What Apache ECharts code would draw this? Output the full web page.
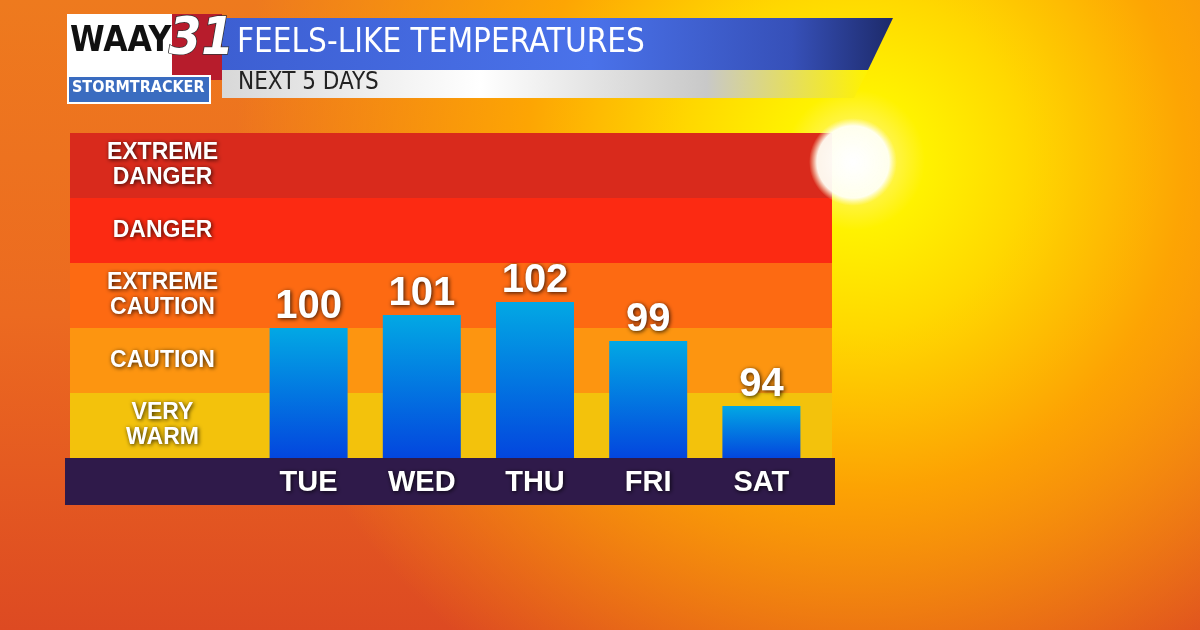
<!DOCTYPE html>
<html>
<head>
<meta charset="utf-8">
<script src="https://cdn.jsdelivr.net/npm/echarts@6/dist/echarts.min.js"></script>
<style>
html, body { margin: 0; padding: 0; }
#chart {
    width: 1200px; height: 630px;
    background:
        radial-gradient(circle at 855px 160px, #fff8a0 0, #fff200 70px, #ffd800 170px, rgba(255,170,0,0.9) 330px, rgba(245,110,20,0) 620px),
        linear-gradient(180deg, #ee7a1e 0%, #ec6a20 50%, #dd4a22 100%);
}
</style>
</head>
<body>
<div id="chart"></div>
<script>
var days = ['TUE', 'WED', 'THU', 'FRI', 'SAT'];
var feelsLike = [100, 101, 102, 99, 94];
var bandNames = ['VERY\nWARM', 'CAUTION', 'EXTREME\nCAUTION', 'DANGER', 'EXTREME\nDANGER'];
var bandFrom = [90, 95, 100, 105, 110];
var bandTo = [95, 100, 105, 110, 115];
var bandColors = ['#f3c20c', '#fd9510', '#fd6a12', '#fc2a12', '#d92a1c'];

var myChart = echarts.init(document.getElementById('chart'));

var colorAreas = [], labelAreas = [];
for (var i = 0; i < bandNames.length; i++) {
    colorAreas.push([{ yAxis: bandFrom[i], itemStyle: { color: bandColors[i] } }, { yAxis: bandTo[i] }]);
    labelAreas.push([{ yAxis: bandFrom[i], name: bandNames[i] }, { yAxis: bandTo[i] }]);
}

var textShadow = { textShadowColor: 'rgba(0,0,0,0.8)', textShadowBlur: 4, textShadowOffsetX: 1, textShadowOffsetY: 1 };
var font = 'Liberation Sans, Arial, sans-serif';
var cond = '"DejaVu Sans Condensed", "Liberation Sans Narrow", sans-serif';

var option = {
    animation: false,
    grid: [
        { left: 70, width: 762, top: 133, height: 325 },
        { left: 252, width: 566, top: 133, height: 325 },
        { left: 70, width: 185, top: 133, height: 325 }
    ],
    xAxis: [
        { gridIndex: 0, type: 'value', min: 0, max: 1, show: false },
        { gridIndex: 1, type: 'category', data: days,
          axisLine: { show: false }, axisTick: { show: false },
          axisLabel: Object.assign({ margin: 10, color: '#fff', fontFamily: font, fontWeight: 'bold', fontSize: 29 }, textShadow) },
        { gridIndex: 2, type: 'value', min: 0, max: 1, show: false }
    ],
    yAxis: [
        { gridIndex: 0, type: 'value', min: 90, max: 115, show: false },
        { gridIndex: 1, type: 'value', min: 90, max: 115, show: false },
        { gridIndex: 2, type: 'value', min: 90, max: 115, show: false }
    ],
    graphic: [
        // bottom strip
        { type: 'rect', shape: { x: 65, y: 458, width: 770, height: 47 }, style: { fill: '#2f1a4a' }, z: -1 },
        // banner
        { type: 'polygon', shape: { points: [[222, 18], [893, 18], [868, 70], [222, 70]] },
          style: { fill: new echarts.graphic.LinearGradient(0, 0, 1, 0, [
              { offset: 0, color: '#3d5fd2' }, { offset: 0.55, color: '#4a72ea' }, { offset: 0.85, color: '#3650b8' }, { offset: 1, color: '#1d2a6a' }]) } },
        { type: 'polygon', shape: { points: [[222, 70], [868, 70], [854, 98], [222, 98]] },
          style: { fill: new echarts.graphic.LinearGradient(0, 0, 1, 0, [
              { offset: 0, color: '#d8d8d8' }, { offset: 0.4, color: '#ffffff' }, { offset: 0.75, color: '#c8c8c8' }, { offset: 1, color: '#fff200' }]) } },
        { type: 'text', left: 237, top: 27, style: { text: 'FEELS-LIKE TEMPERATURES', fill: '#fff', font: '33px ' + cond } },
        { type: 'text', left: 238, top: 71, style: { text: 'NEXT 5 DAYS', fill: '#222', font: '24px ' + cond } },
        // logo
        { type: 'rect', shape: { x: 67, y: 14, width: 144, height: 62 }, style: { fill: '#ffffff' } },
        { type: 'text', left: 70, top: 24, style: { text: 'WAAY', fill: '#111', font: 'bold 35px ' + cond } },
        { type: 'rect', shape: { x: 172, y: 14, width: 50, height: 66 }, style: { fill: '#b71c2c' } },
        { type: 'text', left: 168, top: 14, style: { text: '31', fill: '#fff', stroke: '#333', lineWidth: 1.5, font: 'italic bold 52px ' + cond } },
        { type: 'rect', shape: { x: 68, y: 76, width: 142, height: 27 }, style: { fill: '#3a6cc0', stroke: '#fff', lineWidth: 2 } },
        { type: 'text', left: 72, top: 80, style: { text: 'STORMTRACKER', fill: '#fff', font: 'bold 16px ' + cond } },
        // sun disk over chart corner
        { type: 'circle', shape: { cx: 853, cy: 162, r: 44 }, z: 20,
          style: { fill: new echarts.graphic.RadialGradient(0.5, 0.5, 0.5, [
              { offset: 0, color: 'rgba(255,255,255,1)' }, { offset: 0.82, color: 'rgba(255,255,245,0.95)' }, { offset: 1, color: 'rgba(255,250,200,0)' }]) } }
    ],
    series: [
        {
            type: 'line', xAxisIndex: 0, yAxisIndex: 0, data: [], silent: true,
            markArea: { silent: true, data: colorAreas }
        },
        {
            type: 'line', xAxisIndex: 2, yAxisIndex: 2, data: [], silent: true,
            markArea: {
                silent: true, itemStyle: { color: 'transparent' },
                label: Object.assign({ position: 'inside', color: '#fff', fontFamily: font, fontWeight: 'bold', fontSize: 23, lineHeight: 25, align: 'center' }, textShadow),
                data: labelAreas
            }
        },
        {
            type: 'bar', xAxisIndex: 1, yAxisIndex: 1, data: feelsLike, barWidth: 78, z: 5,
            itemStyle: {
                color: new echarts.graphic.LinearGradient(0, 0, 0, 1, [
                    { offset: 0, color: '#02a8e4' }, { offset: 1, color: '#0346de' }])
            },
            label: Object.assign({ show: true, position: 'top', distance: 1, color: '#fff', fontFamily: font, fontWeight: 'bold', fontSize: 40 }, textShadow)
        }
    ]
};
myChart.setOption(option);
</script>
</body>
</html>
